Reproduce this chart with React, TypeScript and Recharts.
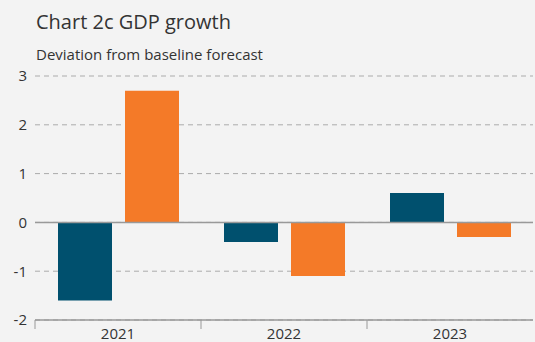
import { BarChart, Bar, XAxis, YAxis, CartesianGrid, ReferenceLine } from 'recharts';

const YEARS = ['2021', '2022', '2023'];
const SERIES_A = [-1.6, -0.4, 0.6];
const SERIES_B = [2.7, -1.1, -0.3];
const Y_TICKS = [-2, -1, 0, 1, 2, 3];

const NAVY = '#00506e';
const ORANGE = '#f47a28';
const FONT = '"Open Sans", "Noto Sans", sans-serif';

const data = YEARS.map((year, i) => ({ year, a: SERIES_A[i], b: SERIES_B[i] }));

function YearTick(props: any) {
  const { x, y, payload } = props;
  const half = payload && payload.offset ? payload.offset : 83;
  return (
    <g>
      <line x1={x - half} x2={x - half} y1={y - 8} y2={y + 1} stroke="#999" strokeWidth={1} />
      <text x={x} y={y} dy="0.71em" textAnchor="middle" fill="#333" fontSize={15} fontFamily={FONT}>
        {payload.value}
      </text>
    </g>
  );
}

export default function App() {
  return (
    <div
      style={{
        position: 'fixed',
        top: 0,
        left: 0,
        width: 535,
        height: 342,
        background: '#f3f3f3',
        fontFamily: FONT,
        overflow: 'hidden',
      }}
    >
      <div style={{ position: 'absolute', left: 36, top: 8, fontSize: 20, color: '#333', lineHeight: '28px' }}>
        Chart 2c GDP growth
      </div>
      <div style={{ position: 'absolute', left: 36, top: 44, fontSize: 15, color: '#333', lineHeight: '20px' }}>
        Deviation from baseline forecast
      </div>
      <BarChart
        width={535}
        height={342}
        data={data}
        margin={{ top: 76, right: 2, bottom: 0, left: 0 }}
        barCategoryGap={23}
        barGap={13}
      >
        <CartesianGrid vertical={false} stroke="#ababab" strokeDasharray="5 4" />
        <XAxis
          dataKey="year"
          height={22}
          axisLine={{ stroke: '#999', strokeWidth: 1.5 }}
          tickLine={false}
          tick={<YearTick />}
          interval={0}
        />
        <YAxis
          width={35}
          domain={[-2, 3]}
          ticks={Y_TICKS}
          axisLine={false}
          tickLine={false}
          tick={{ fill: '#333', fontSize: 15, fontFamily: FONT }}
        />
        <ReferenceLine y={0} stroke="#999" strokeWidth={1.5} />
        <Bar dataKey="a" fill={NAVY} isAnimationActive={false} />
        <Bar dataKey="b" fill={ORANGE} isAnimationActive={false} />
      </BarChart>
    </div>
  );
}
